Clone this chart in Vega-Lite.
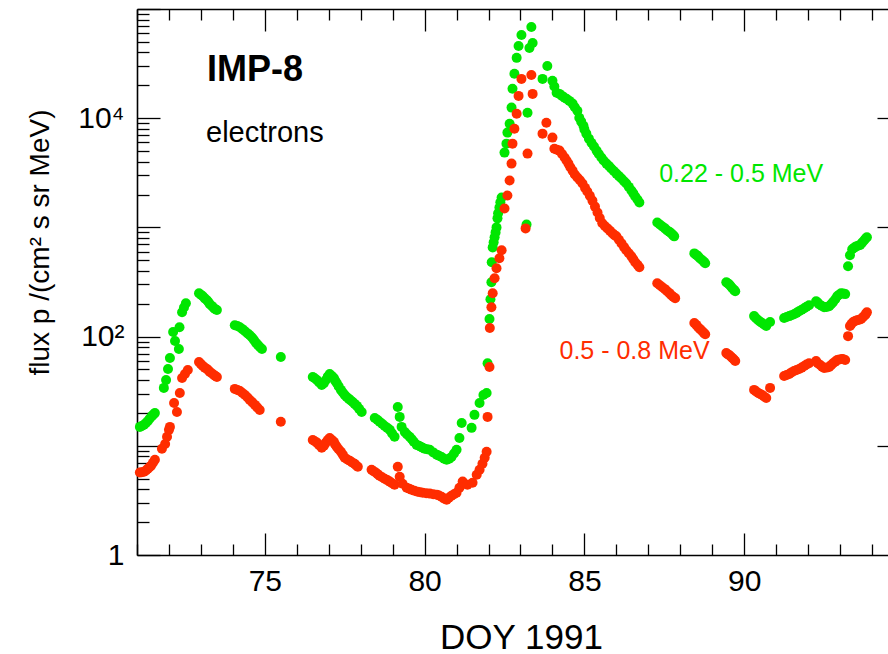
{
  "$schema": "https://vega.github.io/schema/vega-lite/v6.json",
  "width": 751,
  "height": 546,
  "autosize": "none",
  "padding": {"left": 137, "top": 9, "right": 0, "bottom": 99},
  "background": "white",
  "config": {"view": {"stroke": null}, "font": "Liberation Sans"},
  "datasets": {
    "green": [
      {"day":71.09,"flux":14.9},{"day":71.15,"flux":15.2},{"day":71.22,"flux":15.6},{"day":71.28,"flux":16.2},{"day":71.34,"flux":16.9},{"day":71.4,"flux":17.8},{"day":71.47,"flux":18.8},{"day":71.52,"flux":19.4},{"day":71.56,"flux":20.0},
      {"day":71.84,"flux":33.9},{"day":71.91,"flux":40.1},{"day":71.97,"flux":50.5},{"day":72.03,"flux":63.6},{"day":72.13,"flux":110},
      {"day":72.19,"flux":91},{"day":72.31,"flux":76.9},{"day":72.33,"flux":122},{"day":72.41,"flux":167},{"day":72.47,"flux":185},
      {"day":72.53,"flux":202},{"day":72.94,"flux":249},{"day":73.0,"flux":242},{"day":73.06,"flux":234},{"day":73.12,"flux":224},{"day":73.19,"flux":215},{"day":73.24,"flux":206},{"day":73.28,"flux":198},
      {"day":73.35,"flux":190},{"day":73.41,"flux":182},{"day":73.45,"flux":178},{"day":73.5,"flux":175},{"day":74.06,"flux":127},{"day":74.14,"flux":125},{"day":74.22,"flux":122},{"day":74.3,"flux":117},{"day":74.38,"flux":112},
      {"day":74.46,"flux":107},{"day":74.53,"flux":103},{"day":74.6,"flux":98},{"day":74.66,"flux":93},{"day":74.72,"flux":88},{"day":74.78,"flux":84},{"day":74.85,"flux":80},{"day":74.91,"flux":77},{"day":75.5,"flux":65},
      {"day":76.5,"flux":42.7},{"day":76.56,"flux":41.5},{"day":76.63,"flux":40.1},{"day":76.7,"flux":38},{"day":76.78,"flux":36.1},{"day":76.85,"flux":37.5},{"day":76.91,"flux":40.1},{"day":76.97,"flux":43},{"day":77.03,"flux":45.4},
      {"day":77.1,"flux":43.5},{"day":77.16,"flux":41.8},{"day":77.2,"flux":39.5},{"day":77.25,"flux":37.6},{"day":77.31,"flux":35},{"day":77.38,"flux":32.5},{"day":77.44,"flux":30.8},{"day":77.5,"flux":29.2},{"day":77.56,"flux":28},{"day":77.63,"flux":26.9},
      {"day":77.69,"flux":26},{"day":77.75,"flux":25.2},{"day":77.81,"flux":24.2},{"day":77.88,"flux":23.2},{"day":77.95,"flux":21.8},{"day":78.03,"flux":20.4},{"day":78.44,"flux":18.0},{"day":78.52,"flux":17.3},{"day":78.59,"flux":16.6},
      {"day":78.67,"flux":15.9},{"day":78.75,"flux":15.2},{"day":78.83,"flux":14.6},{"day":78.91,"flux":14.0},{"day":78.98,"flux":13},{"day":79.06,"flux":12.1},{"day":79.16,"flux":22.7},{"day":79.22,"flux":18.4},
      {"day":79.28,"flux":14.9},{"day":79.38,"flux":13.4},{"day":79.45,"flux":12.7},{"day":79.53,"flux":12.1},{"day":79.6,"flux":11.5},{"day":79.66,"flux":10.9},{"day":79.75,"flux":10.2},{"day":79.82,"flux":10},
      {"day":79.88,"flux":9.8},{"day":79.94,"flux":9.6},{"day":80.0,"flux":9.4},{"day":80.08,"flux":9.3},{"day":80.16,"flux":9.2},{"day":80.27,"flux":8.7},{"day":80.38,"flux":8.3},{"day":80.45,"flux":8.1},{"day":80.53,"flux":7.9},{"day":80.61,"flux":7.6},
      {"day":80.69,"flux":7.45},{"day":80.77,"flux":7.6},{"day":80.84,"flux":7.9},{"day":80.92,"flux":8.5},{"day":81.0,"flux":9.2},{"day":81.09,"flux":11.8},{"day":81.16,"flux":16.2},
      {"day":81.47,"flux":14.6},{"day":81.56,"flux":19.2},{"day":81.72,"flux":24.7},{"day":81.84,"flux":29.2},{"day":81.94,"flux":30.5},
      {"day":81.97,"flux":57},{"day":82.03,"flux":145},{"day":82.06,"flux":220},{"day":82.09,"flux":315},{"day":82.1,"flux":479},{"day":82.13,"flux":656},{"day":82.16,"flux":730},
      {"day":82.19,"flux":811},{"day":82.22,"flux":900},{"day":82.25,"flux":1000},{"day":82.28,"flux":1210},{"day":82.3,"flux":1350},{"day":82.34,"flux":1520},{"day":82.37,"flux":1700},{"day":82.41,"flux":1880},
      {"day":82.5,"flux":4840},{"day":82.56,"flux":5850},{"day":82.59,"flux":7380},{"day":82.66,"flux":8900},{"day":82.72,"flux":12500},
      {"day":82.75,"flux":18600},{"day":82.81,"flux":25500},{"day":82.88,"flux":35700},{"day":82.94,"flux":45900},{"day":83.03,"flux":57900},
      {"day":83.34,"flux":68400},{"day":83.38,"flux":48900},{"day":83.28,"flux":44000},{"day":83.22,"flux":11200},{"day":83.19,"flux":1065},
      {"day":83.69,"flux":22900},{"day":83.84,"flux":30100},{"day":84.0,"flux":22000},{"day":84.06,"flux":19500},{"day":84.13,"flux":17100},{"day":84.22,"flux":16700},{"day":84.3,"flux":16000},
      {"day":84.38,"flux":15400},{"day":84.45,"flux":15000},{"day":84.53,"flux":14400},{"day":84.63,"flux":13600},{"day":84.7,"flux":12600},{"day":84.78,"flux":11700},{"day":84.84,"flux":10100},{"day":84.9,"flux":9300},
      {"day":84.97,"flux":8540},{"day":85.0,"flux":7900},{"day":85.06,"flux":7220},{"day":85.14,"flux":6500},{"day":85.22,"flux":5970},{"day":85.3,"flux":5500},{"day":85.38,"flux":5050},{"day":85.45,"flux":4700},{"day":85.53,"flux":4360},
      {"day":85.6,"flux":4100},{"day":85.69,"flux":3840},{"day":85.77,"flux":3650},{"day":85.84,"flux":3460},{"day":85.92,"flux":3280},{"day":86.0,"flux":3110},{"day":86.08,"flux":2950},{"day":86.16,"flux":2800},{"day":86.24,"flux":2650},{"day":86.31,"flux":2520},
      {"day":86.39,"flux":2350},{"day":86.47,"flux":2180},{"day":86.53,"flux":2050},{"day":86.59,"flux":1920},{"day":86.66,"flux":1800},{"day":86.72,"flux":1690},{"day":87.28,"flux":1110},{"day":87.36,"flux":1065},{"day":87.44,"flux":1020},
      {"day":87.52,"flux":980},{"day":87.59,"flux":938},{"day":87.66,"flux":910},{"day":87.72,"flux":881},{"day":87.77,"flux":850},{"day":87.81,"flux":828},{"day":88.44,"flux":578},{"day":88.5,"flux":560},{"day":88.56,"flux":543},
      {"day":88.62,"flux":520},{"day":88.69,"flux":500},{"day":88.74,"flux":485},{"day":88.78,"flux":469},{"day":89.44,"flux":315},{"day":89.48,"flux":308},{"day":89.53,"flux":301},{"day":89.58,"flux":289},{"day":89.63,"flux":277},
      {"day":89.68,"flux":268},{"day":89.72,"flux":260},{"day":90.31,"flux":154},{"day":90.37,"flux":147},{"day":90.44,"flux":141},{"day":90.5,"flux":137},{"day":90.56,"flux":133},{"day":90.62,"flux":129},{"day":90.69,"flux":125},
      {"day":90.81,"flux":136},{"day":91.25,"flux":148},{"day":91.33,"flux":151},{"day":91.41,"flux":154},{"day":91.48,"flux":157},{"day":91.56,"flux":160},{"day":91.64,"flux":165},{"day":91.72,"flux":171},
      {"day":91.8,"flux":176},{"day":91.88,"flux":182},{"day":91.95,"flux":188},{"day":92.03,"flux":194},{"day":92.25,"flux":211},{"day":92.3,"flux":205},{"day":92.34,"flux":198},{"day":92.42,"flux":192},{"day":92.5,"flux":186},{"day":92.58,"flux":187},
      {"day":92.66,"flux":190},{"day":92.72,"flux":198},{"day":92.78,"flux":207},{"day":92.85,"flux":220},{"day":92.91,"flux":234},{"day":92.97,"flux":242},{"day":93.03,"flux":249},{"day":93.1,"flux":248},{"day":93.16,"flux":245},
      {"day":93.25,"flux":440},{"day":93.31,"flux":555},{"day":93.38,"flux":630},{"day":93.44,"flux":650},{"day":93.5,"flux":670},{"day":93.56,"flux":680},{"day":93.63,"flux":690},{"day":93.69,"flux":725},
      {"day":93.75,"flux":760},{"day":93.8,"flux":790},{"day":93.84,"flux":811}
    ],
    "red": [
      {"day":71.09,"flux":5.7},{"day":71.15,"flux":5.72},{"day":71.22,"flux":5.79},{"day":71.28,"flux":5.95},{"day":71.34,"flux":6.17},{"day":71.39,"flux":6.35},{"day":71.44,"flux":6.56},{"day":71.5,"flux":7.0},{"day":71.56,"flux":7.45},
      {"day":71.78,"flux":9.39},{"day":71.88,"flux":10.4},{"day":71.94,"flux":12.1},{"day":72.0,"flux":14.0},{"day":72.03,"flux":14.9},
      {"day":72.16,"flux":24.7},{"day":72.25,"flux":20.4},{"day":72.34,"flux":30.5},{"day":72.41,"flux":41.8},{"day":72.5,"flux":45.4},
      {"day":72.59,"flux":49.4},{"day":72.94,"flux":58.5},{"day":73.0,"flux":56},{"day":73.06,"flux":53.8},{"day":73.12,"flux":52},{"day":73.19,"flux":50.5},{"day":73.24,"flux":49},{"day":73.28,"flux":47.4},
      {"day":73.35,"flux":46},{"day":73.41,"flux":44.5},{"day":73.45,"flux":43.5},{"day":73.5,"flux":42.7},{"day":74.06,"flux":33.2},{"day":74.14,"flux":32.5},{"day":74.22,"flux":31.8},{"day":74.3,"flux":30.5},{"day":74.38,"flux":29.2},
      {"day":74.46,"flux":27.7},{"day":74.53,"flux":26.3},{"day":74.61,"flux":25},{"day":74.69,"flux":23.7},{"day":74.76,"flux":22.5},{"day":74.84,"flux":21.3},{"day":75.5,"flux":16.6},{"day":76.5,"flux":11.3},{"day":76.56,"flux":11},
      {"day":76.63,"flux":10.7},{"day":76.7,"flux":10.1},{"day":76.78,"flux":9.59},{"day":76.85,"flux":10},{"day":76.91,"flux":10.7},{"day":76.97,"flux":11.3},{"day":77.03,"flux":11.8},{"day":77.1,"flux":11.3},{"day":77.16,"flux":10.9},
      {"day":77.2,"flux":10.3},{"day":77.25,"flux":9.8},{"day":77.31,"flux":9.3},{"day":77.38,"flux":8.81},{"day":77.44,"flux":8.3},{"day":77.5,"flux":7.77},{"day":77.58,"flux":7.5},{"day":77.66,"flux":7.29},{"day":77.73,"flux":7.05},{"day":77.81,"flux":6.85},
      {"day":77.86,"flux":6.6},{"day":77.91,"flux":6.43},{"day":78.34,"flux":6.04},{"day":78.4,"flux":5.85},{"day":78.47,"flux":5.7},{"day":78.53,"flux":5.5},{"day":78.59,"flux":5.32},{"day":78.67,"flux":5.15},{"day":78.75,"flux":5.0},
      {"day":78.83,"flux":4.85},{"day":78.91,"flux":4.7},{"day":78.98,"flux":4.55},{"day":79.06,"flux":4.4},{"day":79.16,"flux":6.43},{"day":79.22,"flux":5.21},{"day":79.31,"flux":4.5},
      {"day":79.44,"flux":4.13},{"day":79.52,"flux":4.05},{"day":79.59,"flux":3.96},{"day":79.68,"flux":3.88},{"day":79.78,"flux":3.8},{"day":79.86,"flux":3.76},{"day":79.94,"flux":3.72},{"day":80.05,"flux":3.68},{"day":80.16,"flux":3.65},
      {"day":80.27,"flux":3.6},{"day":80.38,"flux":3.57},{"day":80.45,"flux":3.5},{"day":80.53,"flux":3.42},{"day":80.6,"flux":3.3},{"day":80.69,"flux":3.21},{"day":80.76,"flux":3.35},{"day":80.84,"flux":3.49},{"day":80.92,"flux":3.6},{"day":81.0,"flux":3.72},
      {"day":81.09,"flux":4.13},{"day":81.19,"flux":4.7},{"day":81.34,"flux":4.4},{"day":81.5,"flux":4.59},{"day":81.63,"flux":5.43},
      {"day":81.72,"flux":6.04},{"day":81.81,"flux":6.85},{"day":81.88,"flux":7.77},{"day":81.94,"flux":8.81},{"day":81.97,"flux":18.4},
      {"day":82.03,"flux":52.6},{"day":82.04,"flux":120},{"day":82.09,"flux":186},{"day":82.13,"flux":249},{"day":82.19,"flux":342},
      {"day":82.25,"flux":422},{"day":82.34,"flux":521},{"day":82.41,"flux":617},{"day":82.5,"flux":1490},{"day":82.59,"flux":1960},
      {"day":82.66,"flux":2690},{"day":82.72,"flux":3840},{"day":82.75,"flux":5850},{"day":82.81,"flux":8020},{"day":82.88,"flux":11000},
      {"day":82.94,"flux":16000},{"day":83.03,"flux":22900},{"day":83.34,"flux":24900},{"day":83.38,"flux":16700},{"day":83.22,"flux":4740},
      {"day":83.16,"flux":979},{"day":83.69,"flux":7220},{"day":83.81,"flux":9100},{"day":84.0,"flux":6640},{"day":84.06,"flux":5260},{"day":84.14,"flux":5150},
      {"day":84.22,"flux":5050},{"day":84.3,"flux":4700},{"day":84.38,"flux":4360},{"day":84.44,"flux":4100},{"day":84.5,"flux":3840},{"day":84.56,"flux":3550},{"day":84.63,"flux":3310},{"day":84.7,"flux":3050},{"day":84.78,"flux":2860},
      {"day":84.86,"flux":2700},{"day":84.94,"flux":2520},{"day":85.02,"flux":2300},{"day":85.09,"flux":2130},{"day":85.17,"flux":1950},{"day":85.25,"flux":1760},{"day":85.33,"flux":1550},{"day":85.41,"flux":1370},{"day":85.48,"flux":1220},{"day":85.56,"flux":1090},
      {"day":85.64,"flux":1030},{"day":85.72,"flux":979},{"day":85.8,"flux":930},{"day":85.88,"flux":881},{"day":85.94,"flux":850},{"day":86.0,"flux":828},{"day":86.08,"flux":770},{"day":86.16,"flux":714},{"day":86.24,"flux":660},{"day":86.31,"flux":617},
      {"day":86.39,"flux":580},{"day":86.47,"flux":543},{"day":86.53,"flux":510},{"day":86.59,"flux":479},{"day":86.66,"flux":455},{"day":86.72,"flux":431},{"day":87.28,"flux":308},{"day":87.36,"flux":295},{"day":87.44,"flux":283},
      {"day":87.52,"flux":272},{"day":87.59,"flux":260},{"day":87.66,"flux":250},{"day":87.72,"flux":239},{"day":87.78,"flux":232},{"day":87.84,"flux":225},{"day":88.44,"flux":133},{"day":88.5,"flux":128},{"day":88.56,"flux":122},
      {"day":88.62,"flux":117},{"day":88.69,"flux":112},{"day":88.74,"flux":108},{"day":88.78,"flux":105},{"day":89.44,"flux":70.7},{"day":89.48,"flux":69},{"day":89.53,"flux":67.8},{"day":89.58,"flux":65.7},{"day":89.63,"flux":63.6},
      {"day":89.68,"flux":61.6},{"day":89.72,"flux":59.7},{"day":90.31,"flux":32.5},{"day":90.37,"flux":31.5},{"day":90.44,"flux":30.5},{"day":90.5,"flux":29.8},{"day":90.56,"flux":29.2},{"day":90.62,"flux":28.3},{"day":90.69,"flux":27.4},
      {"day":90.81,"flux":33.9},{"day":91.25,"flux":43.6},{"day":91.33,"flux":44.5},{"day":91.41,"flux":45.4},{"day":91.48,"flux":47},{"day":91.56,"flux":48.4},{"day":91.64,"flux":49.5},{"day":91.72,"flux":50.5},
      {"day":91.8,"flux":52},{"day":91.88,"flux":53.8},{"day":91.95,"flux":55.5},{"day":92.03,"flux":57},{"day":92.25,"flux":59.7},{"day":92.3,"flux":57},{"day":92.38,"flux":54.9},{"day":92.44,"flux":53},{"day":92.5,"flux":51.5},{"day":92.58,"flux":52},
      {"day":92.66,"flux":52.6},{"day":92.72,"flux":54.8},{"day":92.78,"flux":57},{"day":92.85,"flux":59},{"day":92.91,"flux":61},{"day":92.98,"flux":61.7},{"day":93.06,"flux":62.3},{"day":93.1,"flux":62},{"day":93.16,"flux":61},
      {"day":93.25,"flux":101},{"day":93.31,"flux":125},{"day":93.36,"flux":131},{"day":93.41,"flux":136},{"day":93.47,"flux":139},{"day":93.53,"flux":141},{"day":93.6,"flux":143},{"day":93.66,"flux":145},{"day":93.72,"flux":151},
      {"day":93.78,"flux":157},{"day":93.81,"flux":162},{"day":93.84,"flux":167}
    ],
    "title": [{"day":73.19,"flux":22000,"label":"IMP-8"}],
    "species": [{"day":73.16,"flux":6100,"label":"electrons"}],
    "lowband": [{"day":87.34,"flux":2580,"label":"0.22 - 0.5 MeV"}],
    "highband": [{"day":84.22,"flux":62.3,"label":"0.5 - 0.8 MeV"}]
  },
  "layer": [
    {
      "data": {"name": "green"},
      "mark": {"type": "circle", "size": 100, "opacity": 1, "color": "#00e600"},
      "encoding": {
        "x": {
          "field": "day", "type": "quantitative",
          "scale": {"domain": [71, 94.5], "nice": false, "zero": false},
          "axis": {
            "orient": "bottom",
            "values": [71,72,73,74,75,76,77,78,79,80,81,82,83,84,85,86,87,88,89,90,91,92,93,94],
            "labelExpr": "datum.value % 5 === 0 ? datum.label : ''",
            "tickSize": {"condition": {"test": "datum.value % 5 === 0", "value": -22}, "value": -11},
            "tickColor": "black", "tickWidth": 1.3,
            "domainColor": "black", "domainWidth": 1.6,
            "grid": false,
            "labelFont": "Liberation Sans", "labelFontSize": 30, "labelColor": "black",
            "labelPadding": 33, "labelBaseline": "top",
            "title": "DOY 1991", "titleFont": "Liberation Sans", "titleFontSize": 35,
            "titleFontWeight": "normal", "titleColor": "black",
            "titleX": 384, "titleY": 93, "titleBaseline": "alphabetic", "titleAlign": "center"
          }
        },
        "y": {
          "field": "flux", "type": "quantitative",
          "scale": {"type": "log", "domain": [1, 100000], "nice": false},
          "axis": {
            "orient": "left",
            "values": [1,2,3,4,5,6,7,8,9,10,20,30,40,50,60,70,80,90,100,200,300,400,500,600,700,800,900,1000,2000,3000,4000,5000,6000,7000,8000,9000,10000,20000,30000,40000,50000,60000,70000,80000,90000,100000],
            "labelExpr": "datum.value == 1 ? '1' : datum.value == 100 ? '10²' : datum.value == 10000 ? '10⁴' : ''",
            "tickSize": {"condition": {"test": "indexof([1,10,100,1000,10000,100000], datum.value) >= 0", "value": -23}, "value": -12},
            "tickColor": "black", "tickWidth": 1.3,
            "domainColor": "black", "domainWidth": 1.6,
            "grid": false,
            "labelFont": "Liberation Sans", "labelFontSize": 30, "labelColor": "black",
            "labelPadding": 36, "labelAlign": "right", "labelBaseline": "middle",
            "title": "flux  p /(cm² s sr MeV)", "titleFont": "Liberation Sans", "titleFontSize": 28,
            "titleFontWeight": "normal", "titleColor": "black",
            "titleAngle": 270, "titleX": -89, "titleY": 233, "titleBaseline": "alphabetic", "titleAlign": "center"
          }
        }
      }
    },
    {
      "data": {"name": "red"},
      "mark": {"type": "circle", "size": 100, "opacity": 1, "color": "#ff2d00"},
      "encoding": {
        "x": {
          "field": "day", "type": "quantitative",
          "axis": {
            "orient": "top",
            "values": [71,72,73,74,75,76,77,78,79,80,81,82,83,84,85,86,87,88,89,90,91,92,93,94],
            "labels": false, "title": null, "grid": false,
            "tickSize": {"condition": {"test": "datum.value % 5 === 0", "value": -22}, "value": -11},
            "tickColor": "black", "tickWidth": 1.3,
            "domainColor": "black", "domainWidth": 1.6
          }
        },
        "y": {
          "field": "flux", "type": "quantitative",
          "axis": {
            "orient": "right",
            "values": [10, 100, 1000, 10000],
            "labels": false, "title": null, "grid": false, "domain": false,
            "tickSize": -11, "tickColor": "black", "tickWidth": 1.3
          }
        }
      }
    },
    {
      "data": {"name": "title"},
      "mark": {"type": "text", "font": "Liberation Sans", "fontSize": 36, "fontWeight": "bold", "color": "black", "align": "left", "baseline": "alphabetic"},
      "encoding": {
        "x": {"field": "day", "type": "quantitative", "axis": null},
        "y": {"field": "flux", "type": "quantitative", "axis": null},
        "text": {"field": "label"}
      }
    },
    {
      "data": {"name": "species"},
      "mark": {"type": "text", "font": "Liberation Sans", "fontSize": 29, "color": "black", "align": "left", "baseline": "alphabetic"},
      "encoding": {
        "x": {"field": "day", "type": "quantitative", "axis": null},
        "y": {"field": "flux", "type": "quantitative", "axis": null},
        "text": {"field": "label"}
      }
    },
    {
      "data": {"name": "lowband"},
      "mark": {"type": "text", "font": "Liberation Sans", "fontSize": 25, "color": "#00e600", "align": "left", "baseline": "alphabetic"},
      "encoding": {
        "x": {"field": "day", "type": "quantitative", "axis": null},
        "y": {"field": "flux", "type": "quantitative", "axis": null},
        "text": {"field": "label"}
      }
    },
    {
      "data": {"name": "highband"},
      "mark": {"type": "text", "font": "Liberation Sans", "fontSize": 25, "color": "#ff2d00", "align": "left", "baseline": "alphabetic"},
      "encoding": {
        "x": {"field": "day", "type": "quantitative", "axis": null},
        "y": {"field": "flux", "type": "quantitative", "axis": null},
        "text": {"field": "label"}
      }
    }
  ],
  "resolve": {"axis": {"x": "independent", "y": "independent"}}
}
